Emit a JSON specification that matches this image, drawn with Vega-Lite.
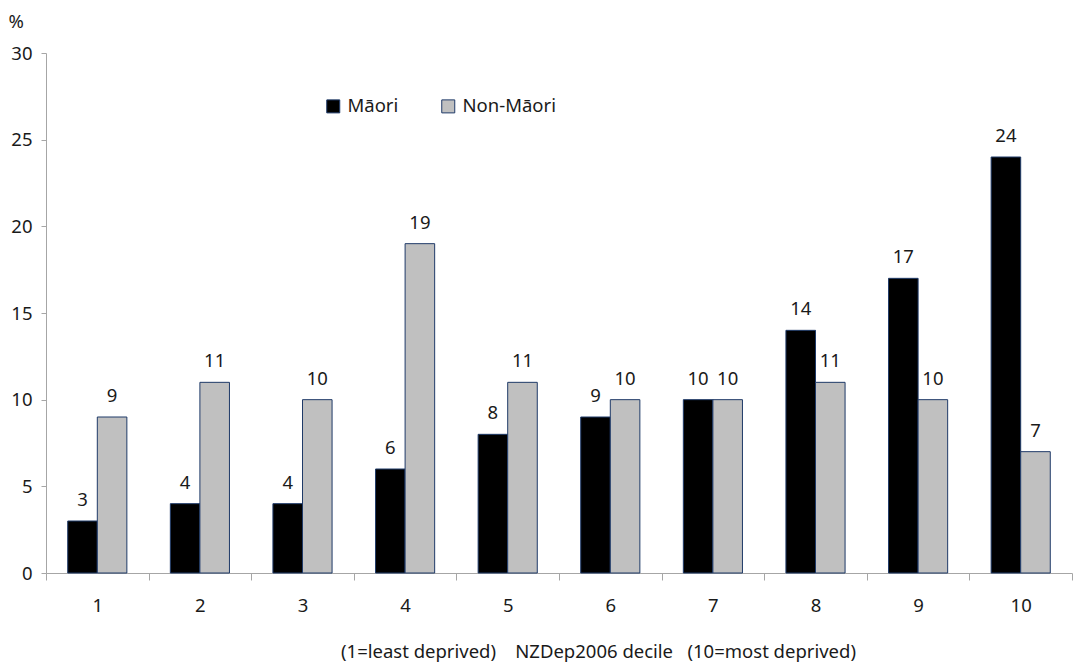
{
  "$schema": "https://vega.github.io/schema/vega-lite/v6.json",
  "autosize": "none",
  "width": 1026,
  "height": 520,
  "padding": {"left": 46, "top": 53, "right": 12, "bottom": 89},
  "background": "white",
  "config": {
    "font": "Noto Sans",
    "view": {"stroke": null},
    "axis": {"labelColor": "#1a1a1a", "titleColor": "#1a1a1a", "domainColor": "#a6a6a6", "tickColor": "#a6a6a6", "grid": false, "labelFontSize": 18.5, "titleFontSize": 18.5, "titleFontWeight": "normal"}
  },
  "data": {
    "values": [
      {"decile": 1, "group": "Māori", "value": 3},
      {"decile": 1, "group": "Non-Māori", "value": 9},
      {"decile": 2, "group": "Māori", "value": 4},
      {"decile": 2, "group": "Non-Māori", "value": 11},
      {"decile": 3, "group": "Māori", "value": 4},
      {"decile": 3, "group": "Non-Māori", "value": 10},
      {"decile": 4, "group": "Māori", "value": 6},
      {"decile": 4, "group": "Non-Māori", "value": 19},
      {"decile": 5, "group": "Māori", "value": 8},
      {"decile": 5, "group": "Non-Māori", "value": 11},
      {"decile": 6, "group": "Māori", "value": 9},
      {"decile": 6, "group": "Non-Māori", "value": 10},
      {"decile": 7, "group": "Māori", "value": 10},
      {"decile": 7, "group": "Non-Māori", "value": 10},
      {"decile": 8, "group": "Māori", "value": 14},
      {"decile": 8, "group": "Non-Māori", "value": 11},
      {"decile": 9, "group": "Māori", "value": 17},
      {"decile": 9, "group": "Non-Māori", "value": 10},
      {"decile": 10, "group": "Māori", "value": 24},
      {"decile": 10, "group": "Non-Māori", "value": 7}
    ]
  },
  "encoding": {
    "x": {
      "field": "decile", "type": "ordinal",
      "scale": {"paddingInner": 0, "paddingOuter": 0},
      "axis": {
        "labelAngle": 0, "tickBand": "extent", "tickSize": 7, "labelPadding": 16,
        "title": "(1=least deprived)\u00a0\u00a0\u00a0\u00a0NZDep2006 decile\u00a0\u00a0\u00a0(10=most deprived)",
        "titleX": 552, "titleY": 84, "titleAnchor": "middle", "titleBaseline": "alphabetic"
      }
    },
    "xOffset": {"field": "group", "type": "nominal", "sort": ["Māori", "Non-Māori"], "scale": {"paddingOuter": 0.735, "paddingInner": 0}},
    "y": {
      "field": "value", "type": "quantitative",
      "scale": {"domain": [0, 30], "nice": false},
      "axis": {
        "values": [0, 5, 10, 15, 20, 25, 30], "tickSize": 5, "labelPadding": 9,
        "title": "%", "titleAngle": 0, "titleX": -38, "titleY": -32, "titleAlign": "left", "titleBaseline": "middle", "labelFontSize": 18.5
      }
    }
  },
  "layer": [
    {
      "mark": {"type": "bar", "stroke": "#1f3a68", "strokeWidth": 1},
      "encoding": {
        "color": {
          "field": "group", "type": "nominal",
          "scale": {"domain": ["Māori", "Non-Māori"], "range": ["#000000", "#c0c0c0"]},
          "legend": {
            "title": null, "orient": "none", "direction": "horizontal",
            "legendX": 278, "legendY": 44,
            "symbolType": "square", "symbolSize": 169, "symbolStrokeColor": "#1f3a68", "symbolStrokeWidth": 1, "symbolOpacity": 1,
            "labelFontSize": 18.5, "labelColor": "#1a1a1a", "labelOffset": 5, "columnPadding": 40
          }
        }
      }
    },
    {
      "mark": {"type": "text", "baseline": "alphabetic", "dy": -15, "fontSize": 18.5, "color": "#1a1a1a"},
      "encoding": {"text": {"field": "value", "type": "quantitative"}}
    }
  ]
}
